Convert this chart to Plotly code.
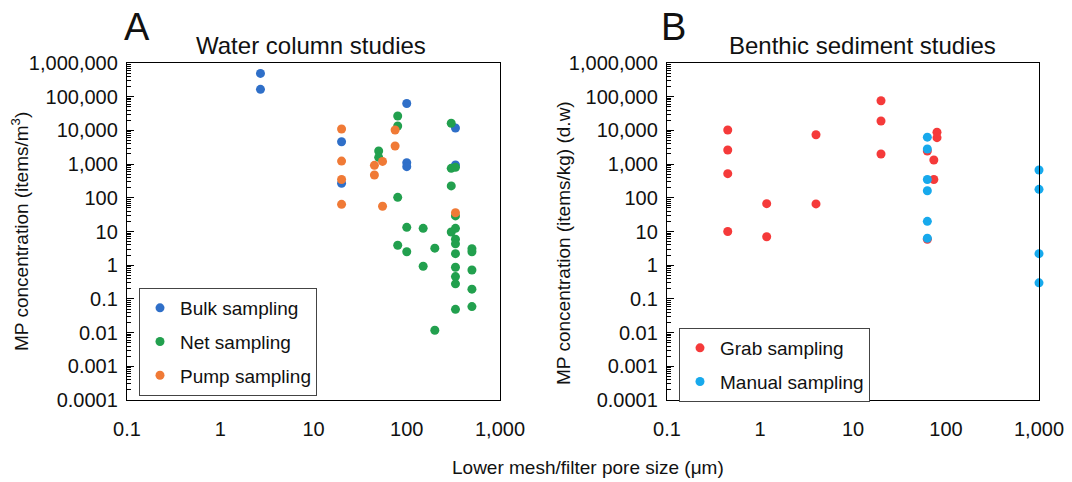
import plotly.graph_objects as go

# ---------------- data ----------------
bulk_x = [2.7, 2.7, 20, 20, 100, 100, 100, 333, 333]
bulk_y = [490000, 165000, 4600, 270, 63000, 1100, 840, 11800, 940]

net_x = [50, 50, 80, 80, 80, 80, 100, 100, 150, 150, 200, 200,
         300, 300, 300, 300,
         333, 333, 333, 333, 333, 333, 333, 333, 333, 333,
         500, 500, 500, 500, 500]
net_y = [2450, 1590, 26700, 13500, 103, 3.9, 13.3, 2.5, 12.4, 0.93, 3.2, 0.0117,
         16300, 750, 225, 9.7,
         800, 29, 12.4, 5.9, 4.3, 2.2, 0.87, 0.46, 0.28, 0.049,
         3.1, 2.5, 0.72, 0.195, 0.059]

pump_x = [20, 20, 20, 20, 45, 45, 55, 55, 75, 75, 333]
pump_y = [11000, 1230, 350, 64, 920, 475, 1200, 56, 10300, 3450, 36]

grab_x = [0.45, 0.45, 0.45, 0.45, 1.18, 1.18, 4, 4, 20, 20, 20, 63, 63, 80, 80, 74, 74]
grab_y = [10300, 2620, 520, 10, 67, 7, 7450, 66, 76000, 19000, 2000, 2450, 5.9,
          8800, 6100, 1320, 350]

manual_x = [63, 63, 63, 63, 63, 63, 1000, 1000, 1000, 1000]
manual_y = [6300, 2800, 350, 162, 20, 6.3, 670, 178, 2.2, 0.30]

x_tickvals = [0.1, 1, 10, 100, 1000]
x_ticktext = ["0.1", "1", "10", "100", "1,000"]
y_tickvals = [1e-4, 1e-3, 1e-2, 1e-1, 1, 10, 100, 1e3, 1e4, 1e5, 1e6]
y_ticktext = ["0.0001", "0.001", "0.01", "0.1", "1", "10", "100",
              "1,000", "10,000", "100,000", "1,000,000"]

# ---------------- style ----------------
FONT = "Liberation Sans, Arial, sans-serif"
W, H = 1072, 482
C_BULK, C_NET, C_PUMP = "#2F6FC8", "#22A04E", "#F07A36"
C_GRAB, C_MANUAL = "#F53A3A", "#17A9EC"
MS = 9


def px_x(p):
    return p / W


def px_y(p):
    return 1 - p / H


fig = go.Figure()


def add(x, y, name, color, xa, ya, legend, group):
    fig.add_trace(go.Scatter(
        x=x, y=y, mode="markers", name=name,
        marker=dict(color=color, size=MS, line=dict(width=0)),
        xaxis=xa, yaxis=ya, legend=legend, legendgroup=group,
        cliponaxis=False,
    ))


add(bulk_x, bulk_y, "Bulk sampling", C_BULK, "x", "y", "legend", "a")
add(net_x, net_y, "Net sampling", C_NET, "x", "y", "legend", "b")
add(pump_x, pump_y, "Pump sampling", C_PUMP, "x", "y", "legend", "c")
add(grab_x, grab_y, "Grab sampling", C_GRAB, "x2", "y2", "legend2", "d")
add(manual_x, manual_y, "Manual sampling", C_MANUAL, "x2", "y2", "legend2", "e")

xax = dict(type="log", range=[-1, 3], tickvals=x_tickvals, ticktext=x_ticktext,
           automargin=False,
           showgrid=False, zeroline=False, showline=True, linecolor="black",
           linewidth=1.3, mirror=True, ticks="outside", ticklen=11,
           tickcolor="rgba(0,0,0,0)", tickfont=dict(size=20, color="#111"))
yax = dict(type="log", range=[-4, 6], tickvals=y_tickvals, ticktext=y_ticktext,
           automargin=False,
           showgrid=False, zeroline=False, showline=True, linecolor="black",
           linewidth=1.3, mirror=True, ticks="inside", ticklen=7, tickwidth=1,
           tickcolor="black", tickfont=dict(size=20, color="#111"),
           minor=dict(ticks="inside", ticklen=4, dtick="D1", tickcolor="black",
                      tickwidth=0.8, showgrid=False),
           ticklabelstandoff=4)

legstyle = dict(bgcolor="white", bordercolor="#444", borderwidth=1,
                font=dict(size=19, color="#111", family=FONT),
                xanchor="left", yanchor="top", tracegroupgap=6,
                itemwidth=30)

fig.update_layout(
    width=W, height=H,
    margin=dict(l=0, r=0, t=0, b=0, autoexpand=False),
    paper_bgcolor="white", plot_bgcolor="white",
    font=dict(family=FONT, color="#111"),
    showlegend=True,
    xaxis=dict(**xax, domain=[px_x(127), px_x(500)], anchor="y"),
    yaxis=dict(**yax, domain=[px_y(400), px_y(63)], anchor="x"),
    xaxis2=dict(**xax, domain=[px_x(667), px_x(1039)], anchor="y2"),
    yaxis2=dict(**yax, domain=[px_y(400), px_y(63)], anchor="x2"),
    legend=dict(**legstyle, x=px_x(139), y=px_y(288)),
    legend2=dict(**legstyle, x=px_x(679), y=px_y(328)),
)


def ann(text, x, y, size, angle=0):
    fig.add_annotation(text=text, x=px_x(x), y=px_y(y), xref="paper", yref="paper",
                       showarrow=False, xanchor="center", yanchor="middle",
                       textangle=angle, font=dict(size=size, family=FONT, color="#111"))


ann("A", 137, 27, 38)
ann("B", 673, 27, 38)
ann("Water column studies", 311, 45, 24)
ann("Benthic sediment studies", 862, 45, 24)
ann("MP concentration (items/m<sup>3</sup>)", 20, 232, 19, -90)
ann("MP concentration (items/kg) (d.w)", 563, 243, 19, -90)
ann("Lower mesh/filter pore size (μm)", 588, 467, 19)

fig.write_html("out.html", config={"displayModeBar": False})

# remove the default page margin so the figure fills the window exactly
with open("out.html", encoding="utf-8") as f:
    html = f.read()
html = html.replace("<body>", '<body style="margin:0;padding:0;overflow:hidden">', 1)
with open("out.html", "w", encoding="utf-8") as f:
    f.write(html)
